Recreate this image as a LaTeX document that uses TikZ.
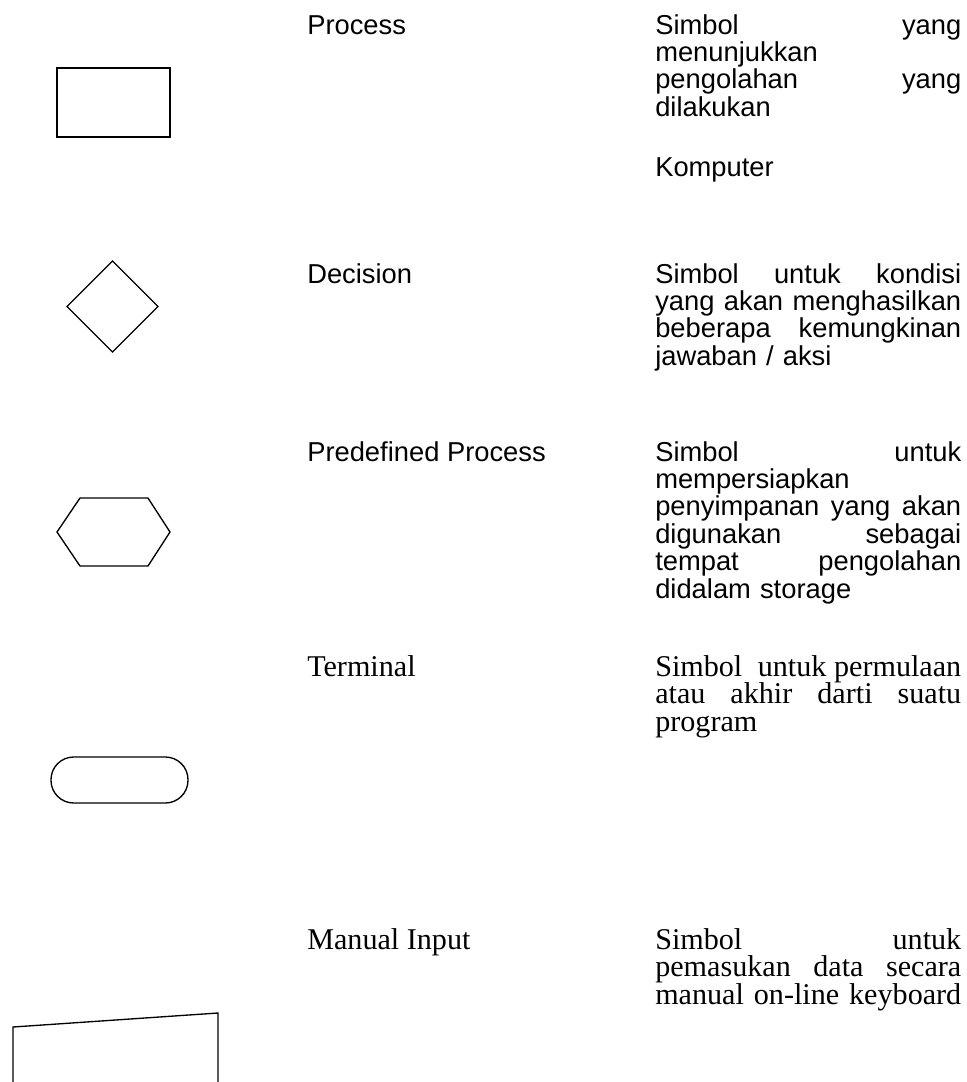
\documentclass[tikz,border=0pt]{standalone}
\usepackage{fontspec}
\setmainfont{Liberation Serif}
\newfontfamily\arialfont{Liberation Sans}
\usetikzlibrary{positioning}

\newlength\colw
\setlength\colw{229.5pt}

\begin{document}
\begin{tikzpicture}[
  x=0.75pt, y=-0.75pt,
  symb/.style={draw, line width=1pt},
  sanstxt/.style={font=\arialfont\fontsize{20.5}{20.55}\selectfont, inner sep=0pt, anchor=base west},
  seriftxt/.style={font=\fontsize{22.6}{20.8}\selectfont, inner sep=0pt, anchor=base west},
  desc/.style={text width=\colw, align=left},
]
\useasboundingbox (0,0) rectangle (967,1082);
\clip (0,0) rectangle (967,1082);

% symbols
\draw[symb] (57,68) rectangle (170,137);
\draw[symb] (112.5,261) -- (158,306.5) -- (112.5,352) -- (67,306.5) -- cycle;
\draw[symb] (57,532) -- (80,498) -- (148,498) -- (170,532) -- (148,566) -- (80,566) -- cycle;
\draw[symb, rounded corners=17pt] (51,757) rectangle (188,803);
\draw[symb] (13,1100) -- (13,1027) -- (218,1013) -- (218,1100);

% names
\node[sanstxt] (nproc) at (307,34) {Process};
\node[sanstxt] (ndec) at (307,283) {Decision};
\node[sanstxt] (npre) at (307,461) {Predefined Process};
\node[seriftxt] (nterm) at (307,676) {Terminal};
\node[seriftxt] (nman) at (307,949) {Manual Input};

% descriptions
\node[sanstxt,desc] (dproc) at (655,34)
  {Simbol\hfill yang\\menunjukkan\\pengolahan\hfill yang\\dilakukan};
\node[sanstxt] (dkomp) at (655,176) {Komputer};
\node[sanstxt,desc] (ddec) at (655,283)
  {Simbol\hfill untuk\hfill kondisi\\yang\hfill akan\hfill menghasilkan\\
   beberapa\hfill kemungkinan\\jawaban / aksi};
\node[sanstxt,desc] (dpre) at (655,461)
  {Simbol\hfill untuk\\mempersiapkan\\penyimpanan\hfill yang\hfill akan\\
   digunakan\hfill sebagai\\tempat\hfill pengolahan\\didalam storage};
\node[seriftxt,desc] (dterm) at (655,676)
  {Simbol\hfill\hfill untuk\hfill permulaan\\atau\hfill akhir\hfill darti\hfill suatu\\program};
\node[seriftxt,desc] (dman) at (655,949)
  {Simbol\hfill untuk\\pemasukan\hfill data\hfill secara\\manual\hfill on-line\hfill keyboard};
\end{tikzpicture}
\end{document}
